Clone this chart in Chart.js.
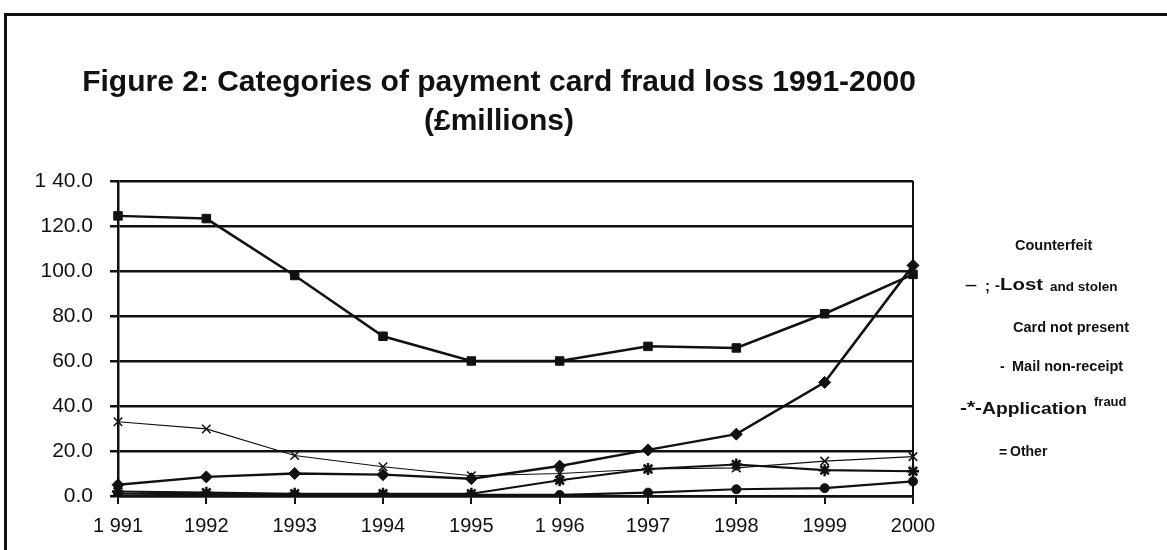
<!DOCTYPE html>
<html><head><meta charset="utf-8">
<script src="https://cdn.jsdelivr.net/npm/chart.js@4.4.1/dist/chart.umd.min.js"></script>
<style>html,body{margin:0;padding:0;background:#fff;} #wrap{width:1167px;height:550px;position:relative;} canvas{display:block;}</style>
</head><body><div id="wrap"><canvas id="c" width="1167" height="550"></canvas></div>
<script>
const years = ['1 991','1992','1993','1994','1995','1 996','1997','1998','1999','2000'];
const counterfeit = [5, 8.5, 10, 9.5, 7.7, 13.3, 20.5, 27.5, 50.5, 102.5];
const lostStolen = [124.5, 123.3, 98, 71, 60, 60, 66.5, 65.8, 81, 98.5];
const cardNotPresent = [];
const mailNonReceipt = [33, 29.8, 18, 13, 9, 10, 12, 12.5, 15.5, 17.5];
const applicationFraud = [2, 1.5, 1, 1, 1, 7, 12, 14, 11.5, 11];
const other = [1, 0.8, 0.5, 0.5, 0.5, 0.5, 1.5, 3, 3.5, 6.5];
const yTickLabels = ['0.0','20.0','40.0','60.0','80.0','100.0','120.0','1 40.0'];
const titleLines = ['Figure 2: Categories of payment card fraud loss 1991-2000','(£millions)'];
const seriesNames = ['Counterfeit','Lost and stolen','Card not present','Mail non-receipt','Application fraud','Other'];

const FONT = '"Liberation Sans", Arial, Helvetica, sans-serif';

const framePlugin = {
  id: 'frame',
  beforeDraw(chart) {
    const ctx = chart.ctx;
    ctx.save();
    ctx.fillStyle = '#fff';
    ctx.fillRect(0, 0, chart.width, chart.height);
    ctx.strokeStyle = '#111';
    ctx.lineWidth = 3;
    ctx.beginPath();
    ctx.moveTo(5.5, chart.height);
    ctx.lineTo(5.5, 14.5);
    ctx.lineTo(chart.width, 14.5);
    ctx.stroke();
    ctx.fillStyle = '#111';
    ctx.textAlign = 'center';
    ctx.textBaseline = 'middle';
    ctx.font = 'bold 30px ' + FONT;
    ctx.fillText(titleLines[0], 499, 83);
    ctx.fillText(titleLines[1], 499, 122);
    ctx.restore();
  }
};

// legend text: [text, x, y, fontSize, targetWidth|null]
const legendLayout = [
  [seriesNames[0], 1015, 246, 14.5, null],
  ['\u2013', 965, 286, 15, 12], [';', 985, 287, 15, null], ['-', 995, 286, 15, null],
  ['Lost', 1000, 286, 16, 43], ['and stolen', 1050, 287, 13.5, null],
  [seriesNames[2], 1013, 328, 14.5, null],
  ['-', 1000, 367, 14, null], ['Mail non-receipt', 1012, 367, 14.5, null],
  ['-*-', 960, 409, 16, 22], ['Application', 982, 409, 17, 105], ['fraud', 1094, 402, 13, null],
  ['=', 999, 453, 14, null], ['Other', 1010, 452, 14, null]
];
const legendPlugin = {
  id: 'textLegend',
  afterDraw(chart) {
    const ctx = chart.ctx;
    legendLayout.forEach(([t, x, y, size, tw]) => {
      ctx.save();
      ctx.fillStyle = '#111';
      ctx.textBaseline = 'middle';
      ctx.textAlign = 'left';
      ctx.font = 'bold ' + size + 'px ' + FONT;
      ctx.translate(x, y);
      if (tw) ctx.scale(tw / ctx.measureText(t).width, 1);
      ctx.fillText(t, 0, 0);
      ctx.restore();
    });
  }
};

const ds = (label, data, style, radius, lw, pbw) => ({
  label, data,
  borderColor: '#111', backgroundColor: '#111',
  borderWidth: lw, pointStyle: style, pointRadius: radius,
  pointBorderWidth: pbw, pointBorderColor: '#111', pointBackgroundColor: '#111',
  tension: 0, fill: false
});

new Chart(document.getElementById('c'), {
  type: 'line',
  data: {
    labels: years,
    datasets: [
      ds(seriesNames[0], counterfeit, 'rectRot', 6, 2.5, 1),
      ds(seriesNames[1], lostStolen, 'rect', 6, 2.5, 1),
      ds(seriesNames[2], cardNotPresent, 'circle', 0, 1, 1),
      ds(seriesNames[3], mailNonReceipt, 'crossRot', 6, 1.2, 1.5),
      ds(seriesNames[4], applicationFraud, 'star', 6, 2.2, 2.5),
      ds(seriesNames[5], other, 'circle', 4.5, 2.2, 1)
    ]
  },
  options: {
    responsive: false,
    animation: false,
    layout: { padding: { left: 10, right: 254, top: 181, bottom: 2 } },
    plugins: {
      legend: { display: false },
      tooltip: { enabled: false },
      title: { display: false }
    },
    scales: {
      x: {
        type: 'category',
        offset: false,
        grid: {
          drawOnChartArea: true,
          color: c => (c.index === years.length - 1 ? '#111' : 'rgba(0,0,0,0)'),
          lineWidth: 2,
          drawTicks: true,
          tickLength: 8,
          tickColor: '#111',
          tickWidth: 2
        },
        border: { display: true, color: '#111', width: 2.5 },
        ticks: {
          color: '#111', font: { family: FONT, size: 20 }, padding: 10,
          maxRotation: 0, autoSkip: false
        }
      },
      y: {
        min: 0, max: 140,
        afterFit(scale) { scale.width = 108; },
        grid: { color: '#111', lineWidth: 2.5, tickLength: 8, tickColor: '#111', tickWidth: 2.5 },
        border: { display: true, color: '#111', width: 2.5 },
        ticks: {
          stepSize: 20, color: '#111', padding: 17,
          font: { family: FONT, size: 21 },
          callback: v => yTickLabels[Math.round(v / 20)]
        }
      }
    }
  },
  plugins: [framePlugin, legendPlugin]
});
</script>
</body></html>
